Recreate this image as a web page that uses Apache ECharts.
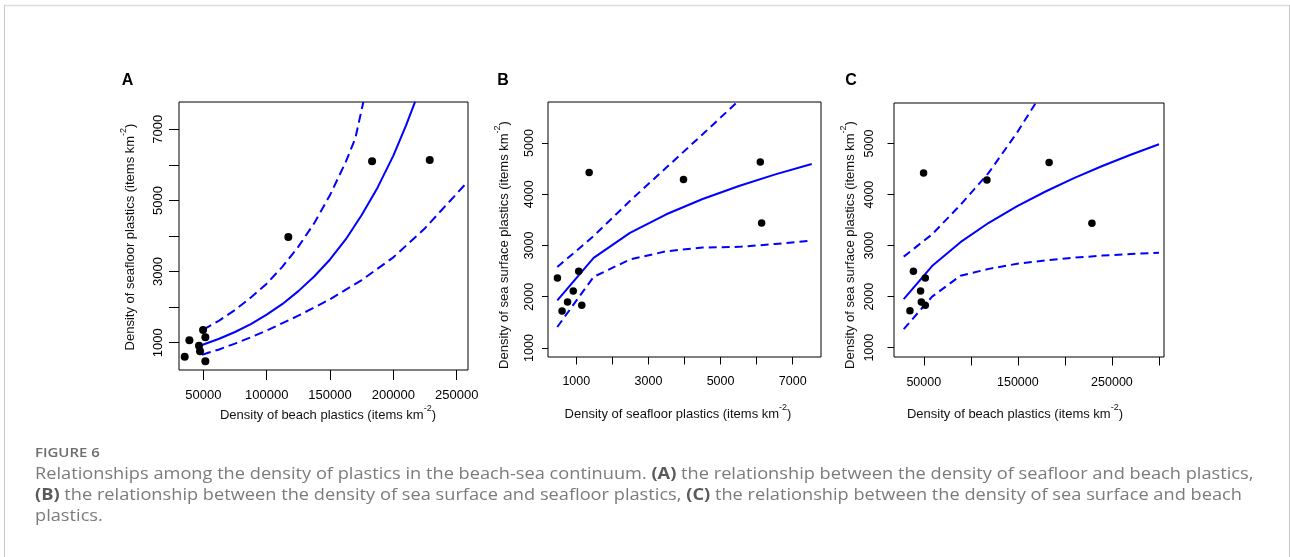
<!DOCTYPE html>
<html>
<head>
<meta charset="utf-8">
<script src="https://cdn.jsdelivr.net/npm/echarts@6/dist/echarts.min.js"></script>
<style>
  html, body { margin: 0; padding: 0; background: #fff; }
  #chart { width: 1290px; height: 557px; }
</style>
</head>
<body>
<div id="chart"></div>
<script>
// densities per site (items km-2)
const beach = [35300, 39000, 46600, 47400, 49800, 51600, 51600, 117100, 183200, 228700]
const seafloor = [606, 1067, 916, 758, 1357, 1152, 477, 3972, 6101, 6138]
const surface = [1722, 2497, 2112, 1898, 4422, 1833, 2366, 4286, 4629, 3439]

// fitted curve + 95% bounds, panel A (seafloor ~ beach)
const fitA = [[49000, 935], [62500, 1110], [75000, 1300], [87500, 1520], [100000, 1790], [112500, 2090],
  [125000, 2450], [137500, 2860], [150000, 3340], [162500, 3910], [175000, 4590], [187500, 5360],
  [200000, 6260], [210000, 7110], [217100, 7770]]
const upperA = [[50000, 1370], [62500, 1620], [75000, 1920], [87500, 2270], [100000, 2660], [112500, 3140],
  [125000, 3700], [137500, 4360], [150000, 5150], [162500, 6090], [170000, 6750], [176300, 7770]]
const lowerA = [[49000, 663], [62500, 810], [75000, 975], [87500, 1150], [100000, 1340], [125000, 1760],
  [150000, 2220], [175000, 2760], [200000, 3400], [225000, 4220], [258700, 5530]]

// panel B (sea surface ~ seafloor)
const fitB = [[474, 1930], [1481, 2758], [2488, 3245], [3496, 3609], [4503, 3907], [5510, 4162], [6518, 4387], [7526, 4590]]
const upperB = [[474, 2580], [1481, 3184], [2488, 3870], [3496, 4520], [4503, 5170], [5510, 5830]]
const lowerB = [[474, 1410], [1481, 2388], [2488, 2727], [3496, 2887], [4503, 2960], [5510, 2973], [6518, 3030], [7526, 3094]]

// panel C (sea surface ~ beach)
const fitC = [[28700, 1951], [58800, 2600], [89000, 3068], [119100, 3448], [149300, 3774], [179400, 4061],
  [209600, 4322], [239700, 4560], [269900, 4782], [300000, 4987]]
const upperC = [[28700, 2785], [58800, 3220], [89000, 3800], [119100, 4430], [149300, 5220], [179400, 6100]]
const lowerC = [[28700, 1365], [58800, 2000], [89000, 2410], [119100, 2545], [149300, 2645], [179400, 2712],
  [209600, 2763], [239700, 2805], [269900, 2835], [300000, 2863]]

// axis ticks / labels
const ticksAx = [50000, 100000, 150000, 200000, 250000]
const ticksAy = [1000, 2000, 3000, 4000, 5000, 6000, 7000]
const labelsAy = [1000, 3000, 5000, 7000]
const ticksBx = [1000, 2000, 3000, 4000, 5000, 6000, 7000]
const labelsBx = [1000, 3000, 5000, 7000]
const ticksBy = [1000, 2000, 3000, 4000, 5000]
const ticksCx = [50000, 100000, 150000, 200000, 250000, 300000]
const labelsCx = [50000, 150000, 250000]
const ticksCy = [1000, 2000, 3000, 4000, 5000]

const BLUE = '#0000ff'
const TICK_FONT = 'Liberation Sans, Arial, sans-serif'

const chart = echarts.init(document.getElementById('chart'))

function valueAxis(grid, min, max, ticks, labels, opts) {
  return {
    type: 'value',
    gridIndex: grid,
    min: min,
    max: max,
    axisLine: { show: false },
    splitLine: { show: false },
    axisTick: { show: true, customValues: ticks, length: opts.tick, lineStyle: { color: '#000', width: 1 } },
    axisLabel: {
      customValues: labels,
      color: '#000',
      fontFamily: TICK_FONT,
      fontSize: opts.font,
      margin: opts.margin,
      rotate: opts.rotate || 0,
      formatter: v => String(v)
    }
  }
}

function curve(idx, data, dashed, dash) {
  return {
    type: 'line',
    xAxisIndex: idx,
    yAxisIndex: idx,
    data: data,
    symbol: 'none',
    clip: true,
    silent: true,
    z: 2,
    lineStyle: { color: BLUE, width: 2, type: dashed ? dash : 'solid' }
  }
}

function points(idx, xs, ys, size) {
  return {
    type: 'scatter',
    xAxisIndex: idx,
    yAxisIndex: idx,
    data: xs.map((x, i) => [x, ys[i]]),
    symbol: 'circle',
    symbolSize: size,
    itemStyle: { color: '#000', opacity: 1 },
    z: 3
  }
}

// axis title with superscript "-2"
function axisTitle(x, y, label, vertical) {
  return {
    type: 'text',
    x: x,
    y: y,
    rotation: vertical ? Math.PI / 2 : 0,
    style: {
      text: '{n|' + label + ' (items km}{s|-2}{n|)}',
      align: 'center',
      verticalAlign: 'middle',
      rich: {
        n: { fontSize: 13, fontFamily: TICK_FONT, fill: '#111', lineHeight: 18, verticalAlign: 'bottom' },
        s: { fontSize: 9, fontFamily: TICK_FONT, fill: '#111', lineHeight: 10, verticalAlign: 'top' }
      }
    }
  }
}

function panelLetter(x, y, t) {
  return {
    type: 'text', x: x, y: y,
    style: { text: t, align: 'center', verticalAlign: 'middle', fontSize: 16, fontWeight: 'bold', fontFamily: TICK_FONT, fill: '#000' }
  }
}

// caption: the journal face is wider than Open Sans, so stretch it a little
const CAP_FONT = 'Open Sans, sans-serif'
const capRich = {
  n: { fontSize: 15.5, fontFamily: CAP_FONT, fill: '#7b7b7b' },
  b: { fontSize: 15.5, fontFamily: CAP_FONT, fill: '#5a5a5a', fontWeight: 'bold' }
}
function captionLine(y, text) {
  return { type: 'text', x: 35, y: y, scaleX: 1.175, style: { text: text, align: 'left', verticalAlign: 'middle', rich: capRich } }
}

const option = {
  animation: false,
  backgroundColor: '#fff',
  grid: [
    { left: 179, top: 102, width: 289, height: 268, show: true, borderColor: '#000', borderWidth: 1 },
    { left: 548, top: 102, width: 273, height: 255, show: true, borderColor: '#000', borderWidth: 1 },
    { left: 894, top: 103, width: 270, height: 254, show: true, borderColor: '#000', borderWidth: 1 }
  ],
  xAxis: [
    valueAxis(0, 30800, 258900, ticksAx, ticksAx, { tick: 10, font: 13, margin: 19 }),
    valueAxis(1, 216, 7784, ticksBx, labelsBx, { tick: 7.5, font: 12.5, margin: 18 }),
    valueAxis(2, 18360, 305300, ticksCx, labelsCx, { tick: 8.5, font: 12.5, margin: 19 })
  ],
  yAxis: [
    valueAxis(0, 232, 7768, ticksAy, labelsAy, { tick: 10, font: 13, margin: 14, rotate: 90 }),
    valueAxis(1, 824, 5800, ticksBy, ticksBy, { tick: 6, font: 12.5, margin: 12, rotate: 90 }),
    valueAxis(2, 818, 5795, ticksCy, ticksCy, { tick: 6.5, font: 12.5, margin: 18, rotate: 90 })
  ],
  series: [
    curve(0, fitA, false), curve(0, upperA, true, [9, 5]), curve(0, lowerA, true, [9, 5]),
    points(0, beach, seafloor, 8),
    curve(1, fitB, false), curve(1, upperB, true, [8, 5]), curve(1, lowerB, true, [8, 5]),
    points(1, seafloor, surface, 7.5),
    curve(2, fitC, false), curve(2, upperC, true, [8, 5]), curve(2, lowerC, true, [8, 5]),
    points(2, beach, surface, 7.5)
  ],
  graphic: [
    // figure frame
    { type: 'line', shape: { x1: 4, y1: 5.5, x2: 1290, y2: 5.5 }, style: { stroke: '#dcdcdc', lineWidth: 1.5 } },
    { type: 'line', shape: { x1: 4.5, y1: 5, x2: 4.5, y2: 557 }, style: { stroke: '#c8c8c8', lineWidth: 1 } },
    { type: 'line', shape: { x1: 1289.5, y1: 5, x2: 1289.5, y2: 557 }, style: { stroke: '#c8c8c8', lineWidth: 1 } },

    panelLetter(127.5, 81, 'A'),
    panelLetter(503, 81, 'B'),
    panelLetter(851, 81, 'C'),

    axisTitle(328, 413, 'Density of beach plastics', false),
    axisTitle(128, 237, 'Density of seafloor plastics', true),
    axisTitle(678, 412, 'Density of seafloor plastics', false),
    axisTitle(502, 245, 'Density of sea surface plastics', true),
    axisTitle(1015, 412, 'Density of beach plastics', false),
    axisTitle(848, 245, 'Density of sea surface plastics', true),

    {
      type: 'text', x: 35, y: 453, scaleX: 1.15,
      style: { text: 'FIGURE 6', align: 'left', verticalAlign: 'middle', fontSize: 13, fontWeight: 600, fontFamily: CAP_FONT, fill: '#6e6e6e' }
    },
    captionLine(475, '{n|Relationships among the density of plastics in the beach-sea continuum. }{b|(A)}{n| the relationship between the density of seafloor and beach plastics,}'),
    captionLine(496, '{b|(B)}{n| the relationship between the density of sea surface and seafloor plastics, }{b|(C)}{n| the relationship between the density of sea surface and beach}'),
    captionLine(517, '{n|plastics.}')
  ]
}

chart.setOption(option)
</script>
</body>
</html>
